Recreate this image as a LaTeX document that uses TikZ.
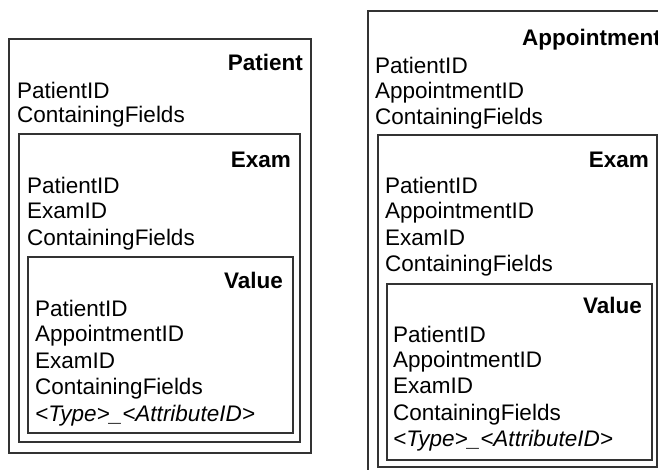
\documentclass[tikz,border=0pt]{standalone}
\usepackage{fontspec}
\setmainfont{Liberation Sans}
\tikzset{
  box/.style={draw=black!80, line width=1.3pt},
  field/.style={anchor=base west, inner sep=0pt, font=\fontsize{22.5}{27}\selectfont},
  title/.style={anchor=base east, inner sep=0pt, font=\fontsize{22.5}{27}\selectfont\bfseries},
}
\begin{document}
\begin{tikzpicture}[x=1pt,y=-1pt]
\useasboundingbox (0,0) rectangle (658,470);
\clip (0,0) rectangle (658,470);
% left: Patient > Exam > Value
\draw[box] (9,39) rectangle (311,453);
\node[title] (patient) at (303,71) {Patient};
\node[field] (pPatientID) at (17,99) {PatientID};
\node[field] (pFields) at (17,123) {ContainingFields};
\draw[box] (19,134) rectangle (300,442);
\node[title] (pExam) at (291,168) {Exam};
\node[field] (pePatientID) at (27,194) {PatientID};
\node[field] (peExamID) at (27,219) {ExamID};
\node[field] (peFields) at (27,246) {ContainingFields};
\draw[box] (28,257) rectangle (293,433);
\node[title] (pValue) at (283,288) {Value};
\node[field] (pvPatientID) at (35,316) {PatientID};
\node[field] (pvApptID) at (35,341) {AppointmentID};
\node[field] (pvExamID) at (35,368) {ExamID};
\node[field] (pvFields) at (35,394) {ContainingFields};
\node[field] (pvType) at (35,421) {\itshape <Type>\_<AttributeID>};
% right: Appointment > Exam > Value
\draw[box] (368,11) rectangle (670,480);
\node[title, anchor=base west] (appointment) at (522,46) {Appointment};
\node[field] (aPatientID) at (375,74) {PatientID};
\node[field] (aApptID) at (375,99) {AppointmentID};
\node[field] (aFields) at (375,125) {ContainingFields};
\draw[box] (378,135) rectangle (657,467);
\node[title] (aExam) at (649,168) {Exam};
\node[field] (aePatientID) at (385,194) {PatientID};
\node[field] (aeApptID) at (385,219) {AppointmentID};
\node[field] (aeExamID) at (385,246) {ExamID};
\node[field] (aeFields) at (385,272) {ContainingFields};
\draw[box] (387,284) rectangle (652,460);
\node[title] (aValue) at (642,313) {Value};
\node[field] (avPatientID) at (393,342) {PatientID};
\node[field] (avApptID) at (393,367) {AppointmentID};
\node[field] (avExamID) at (393,393) {ExamID};
\node[field] (avFields) at (393,420) {ContainingFields};
\node[field] (avType) at (393,446) {\itshape <Type>\_<AttributeID>};
\end{tikzpicture}
\end{document}
